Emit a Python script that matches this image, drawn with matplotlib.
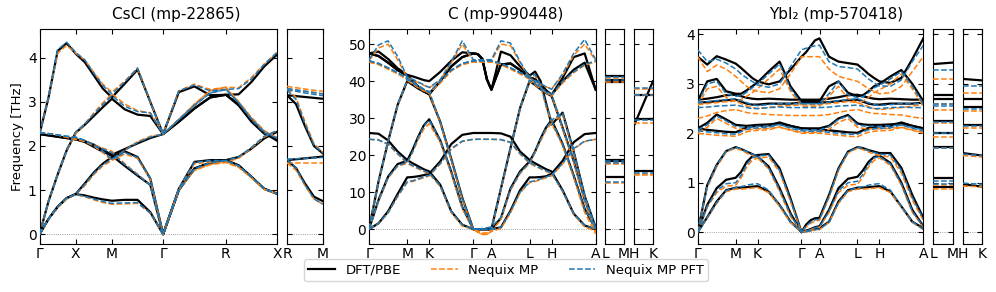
import matplotlib
matplotlib.use("Agg")
import matplotlib.pyplot as plt
from matplotlib.lines import Line2D

# ---------------- CsCl (mp-22865) ----------------
cscl_labels = ["Γ", "X", "M", "Γ", "R", "X"]
cscl_nodes = [0, 0.5, 1.0, 1.707, 2.573, 3.28]
cscl_k = [0, 0.125, 0.25, 0.375, 0.5,
          0.625, 0.75, 0.875, 1.0,
          1.177, 1.354, 1.530, 1.707,
          1.924, 2.140, 2.357, 2.573,
          2.750, 2.927, 3.103, 3.280]
cscl_dft = [
    [0, 0.35, 0.62, 0.82, 0.91, 0.88, 0.83, 0.79, 0.76, 0.78, 0.78, 0.5, 0, 1.0, 1.49, 1.62, 1.68, 1.56, 1.3, 1.03, 0.92],
    [0, 0.35, 0.62, 0.82, 0.91, 1.15, 1.4, 1.6, 1.75, 1.88, 1.75, 1.26, 0, 1.0, 1.49, 1.62, 1.68, 1.56, 1.3, 1.03, 0.92],
    [0, 0.75, 1.35, 1.9, 2.3, 2.48, 2.68, 2.88, 3.07, 2.83, 2.71, 2.68, 2.27, 2.55, 2.85, 3.1, 3.16, 2.92, 2.55, 2.28, 2.15],
    [2.27, 2.24, 2.21, 2.18, 2.15, 2.09, 1.98, 1.87, 1.78, 1.55, 1.33, 1.12, 0, 1.03, 1.64, 1.68, 1.68, 1.75, 1.94, 2.17, 2.32],
    [2.27, 2.24, 2.21, 2.18, 2.15, 2.11, 2.03, 1.91, 1.80, 1.93, 2.06, 2.18, 2.27, 2.55, 2.85, 3.1, 3.16, 2.95, 2.6, 2.3, 2.12],
    [2.27, 3.1, 4.15, 4.33, 4.09, 3.9, 3.6, 3.3, 3.1, 3.41, 3.73, 3.0, 2.27, 3.22, 3.35, 3.15, 3.16, 3.17, 3.45, 3.8, 4.07],
]
cscl_mp = [
    [0, 0.35, 0.6, 0.8, 0.9, 0.85, 0.78, 0.72, 0.68, 0.69, 0.7, 0.48, 0, 1.0, 1.45, 1.58, 1.63, 1.52, 1.28, 1.02, 0.92],
    [0, 0.35, 0.6, 0.8, 0.9, 1.1, 1.35, 1.55, 1.67, 1.82, 1.72, 1.25, 0, 1.0, 1.45, 1.58, 1.63, 1.52, 1.28, 1.02, 0.92],
    [0, 0.75, 1.35, 1.9, 2.28, 2.5, 2.75, 2.98, 3.18, 2.95, 2.8, 2.75, 2.27, 2.6, 2.95, 3.25, 3.33, 3.0, 2.62, 2.33, 2.2],
    [2.3, 2.28, 2.25, 2.2, 2.15, 2.12, 2.03, 1.95, 1.88, 1.6, 1.36, 1.12, 0, 1.03, 1.6, 1.63, 1.63, 1.72, 1.95, 2.2, 2.35],
    [2.3, 2.28, 2.25, 2.2, 2.15, 2.1, 2.0, 1.85, 1.67, 1.9, 2.1, 2.22, 2.27, 2.6, 2.95, 3.25, 3.33, 3.0, 2.65, 2.35, 2.18],
    [2.27, 3.1, 4.1, 4.28, 4.1, 3.95, 3.67, 3.4, 3.22, 3.47, 3.75, 3.0, 2.27, 3.25, 3.4, 3.28, 3.33, 3.32, 3.55, 3.85, 4.12],
]
cscl_pft = [
    [0, 0.35, 0.62, 0.82, 0.9, 0.86, 0.8, 0.74, 0.7, 0.71, 0.72, 0.48, 0, 1.0, 1.48, 1.62, 1.67, 1.55, 1.3, 1.03, 0.92],
    [0, 0.35, 0.62, 0.82, 0.9, 1.13, 1.38, 1.58, 1.7, 1.85, 1.74, 1.26, 0, 1.0, 1.48, 1.62, 1.67, 1.55, 1.3, 1.03, 0.92],
    [0, 0.75, 1.35, 1.92, 2.32, 2.5, 2.72, 2.94, 3.14, 2.9, 2.78, 2.75, 2.27, 2.6, 2.92, 3.2, 3.28, 2.98, 2.6, 2.3, 2.18],
    [2.3, 2.28, 2.25, 2.22, 2.2, 2.13, 2.02, 1.93, 1.85, 1.58, 1.35, 1.12, 0, 1.03, 1.63, 1.67, 1.67, 1.75, 1.97, 2.22, 2.35],
    [2.3, 2.28, 2.25, 2.22, 2.2, 2.12, 2.02, 1.88, 1.7, 1.9, 2.08, 2.2, 2.27, 2.6, 2.92, 3.2, 3.28, 2.98, 2.62, 2.33, 2.17],
    [2.27, 3.1, 4.18, 4.35, 4.12, 3.95, 3.65, 3.37, 3.18, 3.45, 3.77, 3.0, 2.27, 3.25, 3.38, 3.25, 3.28, 3.3, 3.52, 3.85, 4.12],
]
cscl_side_labels = ["R", "M"]
cscl_side_k = [0, 0.125, 0.25, 0.375, 0.5]
cscl_side_dft = [
    [3.15, 3.13, 3.11, 3.09, 3.07],
    [3.15, 2.95, 2.45, 2.0, 1.83],
    [1.68, 1.70, 1.72, 1.74, 1.76],
    [1.68, 1.5, 1.15, 0.85, 0.75],
]
cscl_side_mp = [
    [3.35, 3.32, 3.29, 3.26, 3.24],
    [3.3, 3.27, 3.24, 3.21, 3.18],
    [3.3, 3.1, 2.55, 2.05, 1.85],
    [1.62, 1.62, 1.62, 1.62, 1.62],
    [1.62, 1.45, 1.1, 0.8, 0.68],
]
cscl_side_pft = [
    [3.3, 3.27, 3.24, 3.21, 3.18],
    [3.27, 3.24, 3.2, 3.17, 3.14],
    [3.27, 3.05, 2.5, 2.02, 1.84],
    [1.7, 1.71, 1.72, 1.73, 1.74],
    [1.7, 1.5, 1.12, 0.8, 0.68],
]

# ---------------- hexagonal path (C and YbI2) ----------------
hex_labels = ["Γ", "M", "K", "Γ", "A", "L", "H", "A"]
hex_nodes = [0, 1.0, 1.577, 2.732, 3.206, 4.206, 4.783, 5.938]
hex_k = [0, 0.25, 0.5, 0.75, 1.0,
         1.144, 1.289, 1.433, 1.577,
         1.866, 2.155, 2.443, 2.732,
         2.851, 2.969, 3.088, 3.206,
         3.456, 3.706, 3.956, 4.206,
         4.350, 4.495, 4.639, 4.783,
         5.072, 5.361, 5.649, 5.938]
hex_side1_labels = ["L", "M"]
hex_side2_labels = ["H", "K"]
hex_side_k = [0, 0.474]

# ---------------- C (mp-990448) ----------------
c_dft = [
    [0, 1.6, 4.8, 9.5, 14, 14.1, 14.3, 14.6, 15, 18.3, 23, 25.5, 26,
     26, 26, 26, 26, 25.9, 25, 21, 18.7, 17.8, 17, 16.2, 15.6, 10.5, 4.2, 1.0, 0],
    [26, 25.8, 24, 21, 18.7, 17.8, 17, 16.2, 15.6, 12, 4.8, 1.2, 0,
     0, 0, 0, 0, 0.5, 5, 10.5, 14, 14, 14.1, 14.3, 15, 18.5, 23.5, 25.7, 26],
    [0, 7.9, 14.2, 17.6, 18.5, 21.5, 25, 28, 29.7, 24, 15.5, 6, 0,
     0, 0, 0, 0, 3, 11, 15.6, 18.3, 21, 24.5, 27.5, 29.5, 23, 14.5, 5.5, 0],
    [0, 12.9, 23.7, 33.6, 40, 39, 38, 37.2, 36.5, 29, 19, 8.5, 0,
     0, 0, 0, 0, 11, 21.9, 32.7, 40, 39, 37.8, 36.8, 36, 27.4, 18.5, 8, 0],
    [47.5, 48, 46, 43.5, 41.7, 41.3, 40.8, 40.3, 40, 42.5, 45.5, 47.8, 47.5,
     47.3, 46, 40.5, 37.7, 48, 47, 44, 41.5, 42.6, 40, 34, 28.3, 31.5, 21, 9, 0.4],
    [47.5, 46.8, 45, 43, 41.5, 40, 38.5, 37.3, 36.5, 40, 44, 46.5, 47.5,
     47.3, 46, 40.5, 37.7, 44.5, 44.8, 43, 41, 40.5, 39.1, 37.5, 36.3, 40.9, 46.5, 47.5, 37.7],
    [47.5, 46.8, 45, 43, 41.5, 40, 38.5, 37.3, 36.5, 40, 44, 46.5, 47.5,
     47.3, 46, 40.5, 37.7, 44.5, 44.8, 43, 41, 40.5, 39.1, 37.5, 36.3, 40, 43.1, 45, 37.7],
]
c_mp = [
    [45.5, 49.0, 50.0, 45.8, 41.0, 40.3, 39.6, 38.9, 38.2, 40.2, 45.0, 50.0, 45.5,
     45.5, 45.5, 45.5, 45.5, 50.0, 49.6, 45.0, 40.8, 40.0, 39.2, 38.4, 38.0, 41.5, 47.0, 50.0, 45.5],
    [45.2, 44.5, 43.3, 42.0, 40.5, 39.5, 38.5, 37.5, 36.8, 39.5, 42.8, 44.5, 45.2,
     45.2, 45.2, 45.2, 45.2, 44.5, 43.3, 42.0, 40.5, 39.5, 38.3, 36.8, 36.0, 39.5, 42.3, 44.3, 45.2],
    [45.2, 44.5, 43.3, 42.0, 40.5, 39.5, 38.5, 37.5, 36.8, 39.5, 42.8, 44.5, 45.2,
     45.2, 45.2, 45.2, 45.2, 44.5, 43.3, 42.0, 41.2, 41.5, 38.8, 33.0, 29.0, 31.0, 20.5, 8.5, -1.2],
    [0, 1.5, 4.4, 8.8, 12.6, 12.9, 13.4, 13.9, 14.4, 17.6, 21.6, 23.7, 24.3,
     24.3, 24.3, 24.3, 24.3, 24.2, 23.4, 20.3, 17.8, 17.0, 16.3, 15.6, 15.0, 10.2, 4.0, 0.6, -0.5],
    [24.3, 24.1, 22.9, 20.3, 17.8, 17.0, 16.3, 15.6, 15.0, 11.5, 4.5, 0.8, 0,
     -0.8, -1.4, -1.4, -0.6, 0.2, 4.4, 9.8, 12.6, 12.9, 13.4, 13.9, 14.4, 17.6, 21.6, 23.7, 24.3],
    [0, 7.6, 13.8, 17.0, 17.8, 20.8, 24.2, 27.0, 28.5, 23.5, 15.0, 5.5, 0,
     -0.8, -1.4, -1.4, -0.6, 2.6, 10.5, 15.0, 17.8, 20.7, 23.8, 26.8, 28.6, 22.5, 14.0, 4.5, -1.2],
    [0, 12.8, 23.6, 33.5, 40.2, 39.2, 38.2, 37.4, 36.8, 28.8, 18.8, 8.2, 0,
     -0.5, -1.0, -1.0, -0.4, 10.8, 21.7, 32.5, 40.0, 39.0, 37.9, 36.9, 36.2, 27.0, 18.0, 7.5, -1.0],
]
c_pft = [
    [45.8, 49.8, 50.9, 46.7, 41.2, 40.5, 39.8, 39.0, 38.3, 40.4, 45.3, 50.9, 45.8,
     45.8, 45.8, 45.8, 45.8, 50.9, 50.3, 45.3, 41.0, 40.2, 39.3, 38.5, 37.8, 42.0, 47.5, 51.3, 45.8],
    [45.5, 44.8, 43.6, 42.3, 40.8, 39.8, 38.8, 37.8, 37.0, 40.0, 43.0, 44.8, 45.5,
     45.5, 45.5, 45.5, 45.5, 44.8, 43.6, 42.3, 40.8, 39.8, 38.5, 37.0, 36.3, 40.0, 42.5, 44.5, 45.5],
    [45.5, 44.8, 43.6, 42.3, 40.8, 39.8, 38.8, 37.8, 37.0, 40.0, 43.0, 44.8, 45.5,
     45.5, 45.5, 45.5, 45.5, 44.8, 43.6, 42.3, 41.5, 41.8, 39.0, 33.5, 29.5, 31.5, 21.0, 9.0, 0.4],
    [0, 1.5, 4.5, 9.0, 12.8, 13.1, 13.6, 14.1, 14.6, 17.8, 21.8, 23.8, 24.3,
     24.3, 24.3, 24.3, 24.3, 24.2, 23.5, 20.5, 18.0, 17.2, 16.5, 15.8, 15.2, 10.3, 4.2, 1.0, 0],
    [24.3, 24.1, 23.0, 20.5, 18.0, 17.2, 16.5, 15.8, 15.2, 11.8, 4.8, 1.2, 0,
     0, 0, 0, 0, 0.5, 4.8, 10.0, 12.8, 13.1, 13.6, 14.1, 14.6, 17.8, 21.8, 23.8, 24.3],
    [0, 7.8, 14.0, 17.2, 18.0, 21.0, 24.8, 27.8, 29.5, 24.0, 15.5, 6.0, 0,
     0, 0.2, 0.4, 0.6, 3.2, 10.8, 15.3, 18.0, 21.0, 24.3, 27.3, 29.3, 23.0, 14.5, 5.5, 0],
    [0, 12.9, 23.7, 33.6, 40.5, 39.5, 38.5, 37.8, 37.2, 29.0, 19.0, 8.5, 0,
     0, 0, 0, 0, 11.0, 21.9, 32.7, 40.3, 39.3, 38.2, 37.2, 36.5, 27.4, 18.5, 8.0, 0],
]
c_side1_dft = [[41.5, 41.5], [40.4, 40.4], [39.9, 39.9], [18.7, 18.7], [18.3, 18.3], [14.0, 14.0]]
c_side1_mp = [[40.8, 40.8], [39.8, 39.8], [18.0, 18.0], [17.6, 17.6], [12.6, 12.6]]
c_side1_pft = [[41.2, 41.2], [40.3, 40.3], [18.3, 18.3], [17.8, 17.8], [12.8, 12.8]]
c_side2_dft = [[28.0, 40.0], [29.7, 29.7], [36.3, 36.3], [15.8, 15.8]]
c_side2_mp = [[38.0, 38.0], [36.2, 36.2], [28.6, 28.6], [15.0, 15.0], [14.6, 14.6]]
c_side2_pft = [[38.2, 38.2], [36.3, 36.3], [29.5, 29.5], [15.2, 15.2]]

# ---------------- YbI2 (mp-570418) ----------------
ybi2_dft = [
    [0, 0.3, 0.62, 0.85, 0.9, 0.9, 0.91, 0.92, 0.93, 0.82, 0.55, 0.21, 0,
     0.02, 0.04, 0.06, 0.08, 0.21, 0.62, 0.85, 0.9, 0.9, 0.91, 0.92, 0.93, 0.82, 0.52, 0.21, 0.08],
    [0, 0.55, 0.89, 1.06, 1.1, 1.22, 1.42, 1.53, 1.56, 1.58, 1.29, 0.68, 0,
     0.03, 0.06, 0.1, 0.12, 0.45, 0.89, 1.08, 1.12, 1.25, 1.42, 1.52, 1.55, 1.4, 1.0, 0.45, 0.12],
    [0, 0.95, 1.36, 1.64, 1.72, 1.68, 1.63, 1.58, 1.53, 1.33, 0.89, 0.38, 0,
     0.15, 0.24, 0.28, 0.29, 0.75, 1.29, 1.63, 1.72, 1.7, 1.66, 1.63, 1.6, 1.6, 1.3, 0.75, 0.29],
    [2.1, 2.07, 2.05, 2.03, 2.02, 2.07, 2.12, 2.14, 2.15, 2.16, 2.22, 2.15, 2.1,
     2.09, 2.08, 2.08, 2.08, 2.06, 2.04, 2.02, 2.01, 2.06, 2.11, 2.13, 2.14, 2.15, 2.22, 2.15, 2.1],
    [2.1, 2.21, 2.38, 2.28, 2.17, 2.16, 2.15, 2.16, 2.17, 2.18, 2.2, 2.15, 2.1,
     2.1, 2.1, 2.1, 2.1, 2.15, 2.3, 2.37, 2.2, 2.18, 2.17, 2.17, 2.17, 2.18, 2.2, 2.15, 2.1],
    [2.62, 2.63, 2.65, 2.67, 2.68, 2.64, 2.6, 2.58, 2.58, 2.6, 2.6, 2.6, 2.62,
     2.62, 2.62, 2.62, 2.62, 2.63, 2.65, 2.67, 2.68, 2.64, 2.6, 2.58, 2.58, 2.6, 2.6, 2.6, 2.62],
    [2.68, 2.7, 2.73, 2.77, 2.78, 2.75, 2.72, 2.7, 2.69, 2.7, 2.69, 2.68, 2.68,
     2.68, 2.68, 2.68, 2.68, 2.7, 2.73, 2.77, 2.78, 2.75, 2.72, 2.7, 2.69, 2.7, 2.69, 2.68, 2.68],
    [2.65, 3.05, 3.1, 2.85, 2.8, 2.8, 2.87, 2.95, 3.03, 3.25, 3.45, 2.95, 2.65,
     2.65, 2.65, 2.65, 2.65, 2.95, 3.05, 2.82, 2.75, 2.77, 2.85, 2.95, 3.0, 3.15, 3.28, 3.0, 2.65],
    [3.55, 3.39, 3.56, 3.49, 3.41, 3.32, 3.22, 3.12, 3.05, 2.99, 3.05, 3.29, 3.55,
     3.64, 3.76, 3.88, 3.92, 3.55, 3.45, 3.42, 3.39, 3.3, 3.2, 3.12, 3.05, 3.02, 3.12, 3.5, 3.92],
]
ybi2_mp = [
    [0, 0.28, 0.58, 0.82, 0.87, 0.87, 0.88, 0.89, 0.9, 0.8, 0.52, 0.2, 0,
     0.01, 0.03, 0.04, 0.05, 0.2, 0.58, 0.82, 0.87, 0.87, 0.88, 0.89, 0.9, 0.8, 0.5, 0.2, 0.05],
    [0, 0.5, 0.8, 0.93, 0.95, 1.1, 1.32, 1.45, 1.5, 1.52, 1.22, 0.62, 0,
     0.02, 0.05, 0.08, 0.1, 0.4, 0.8, 0.95, 0.97, 1.12, 1.32, 1.45, 1.5, 1.35, 0.95, 0.4, 0.1],
    [0, 0.9, 1.32, 1.62, 1.7, 1.66, 1.6, 1.55, 1.5, 1.28, 0.82, 0.32, 0,
     0.1, 0.18, 0.22, 0.24, 0.7, 1.25, 1.6, 1.7, 1.67, 1.62, 1.58, 1.55, 1.52, 1.2, 0.65, 0.24],
    [2.0, 1.98, 1.96, 1.95, 1.94, 1.98, 2.03, 2.05, 2.06, 2.07, 2.13, 2.06, 2.0,
     2.0, 2.0, 2.0, 2.0, 1.98, 1.96, 1.94, 1.93, 1.98, 2.02, 2.04, 2.05, 2.06, 2.12, 2.06, 2.0],
    [2.02, 2.12, 2.3, 2.2, 2.1, 2.08, 2.07, 2.08, 2.09, 2.1, 2.12, 2.07, 2.02,
     2.02, 2.02, 2.02, 2.02, 2.08, 2.22, 2.3, 2.12, 2.1, 2.09, 2.09, 2.09, 2.1, 2.12, 2.07, 2.02],
    [2.3, 2.35, 2.42, 2.46, 2.48, 2.45, 2.42, 2.4, 2.4, 2.38, 2.37, 2.36, 2.36,
     2.36, 2.36, 2.36, 2.36, 2.38, 2.42, 2.46, 2.48, 2.45, 2.42, 2.4, 2.4, 2.38, 2.37, 2.33, 2.3],
    [2.58, 2.6, 2.62, 2.64, 2.65, 2.6, 2.55, 2.52, 2.5, 2.52, 2.55, 2.56, 2.58,
     2.58, 2.58, 2.58, 2.58, 2.6, 2.62, 2.64, 2.62, 2.58, 2.54, 2.5, 2.48, 2.5, 2.52, 2.55, 2.58],
    [2.55, 2.9, 2.95, 2.72, 2.65, 2.68, 2.75, 2.82, 2.9, 3.1, 3.3, 2.85, 2.55,
     2.55, 2.55, 2.55, 2.55, 2.75, 2.95, 2.7, 2.62, 2.65, 2.72, 2.82, 2.88, 3.0, 3.2, 2.9, 2.55],
    [3.55, 3.25, 3.38, 3.3, 3.15, 3.05, 2.95, 2.88, 2.85, 2.82, 2.9, 3.2, 3.55,
     3.55, 3.55, 3.55, 3.55, 3.3, 3.15, 3.1, 3.05, 2.98, 2.9, 2.85, 2.8, 2.82, 2.95, 3.25, 3.55],
]
ybi2_pft = [
    [0, 0.29, 0.6, 0.84, 0.9, 0.92, 0.95, 0.97, 0.98, 0.85, 0.55, 0.21, 0,
     0.01, 0.03, 0.05, 0.06, 0.2, 0.6, 0.84, 0.9, 0.92, 0.95, 0.97, 0.98, 0.85, 0.52, 0.21, 0.06],
    [0, 0.52, 0.84, 0.98, 1.0, 1.15, 1.37, 1.5, 1.54, 1.56, 1.25, 0.65, 0,
     0.02, 0.05, 0.09, 0.11, 0.42, 0.84, 1.0, 1.03, 1.17, 1.37, 1.5, 1.53, 1.38, 0.97, 0.42, 0.11],
    [0, 0.93, 1.35, 1.64, 1.72, 1.68, 1.63, 1.58, 1.54, 1.3, 0.86, 0.35, 0,
     0.12, 0.2, 0.25, 0.26, 0.72, 1.27, 1.62, 1.72, 1.69, 1.65, 1.61, 1.58, 1.56, 1.25, 0.7, 0.26],
    [2.05, 2.03, 2.01, 1.99, 1.98, 2.03, 2.08, 2.1, 2.11, 2.12, 2.18, 2.1, 2.05,
     2.04, 2.04, 2.04, 2.04, 2.02, 2.0, 1.98, 1.98, 2.03, 2.07, 2.09, 2.1, 2.11, 2.17, 2.1, 2.05],
    [2.07, 2.17, 2.35, 2.25, 2.14, 2.13, 2.12, 2.13, 2.14, 2.15, 2.17, 2.12, 2.07,
     2.07, 2.07, 2.07, 2.07, 2.13, 2.28, 2.35, 2.17, 2.15, 2.14, 2.14, 2.14, 2.15, 2.17, 2.12, 2.07],
    [2.52, 2.53, 2.55, 2.56, 2.57, 2.55, 2.52, 2.5, 2.5, 2.52, 2.53, 2.52, 2.52,
     2.52, 2.52, 2.52, 2.52, 2.53, 2.55, 2.56, 2.57, 2.55, 2.52, 2.5, 2.5, 2.52, 2.53, 2.52, 2.52],
    [2.62, 2.64, 2.66, 2.68, 2.7, 2.66, 2.62, 2.58, 2.56, 2.58, 2.6, 2.6, 2.6,
     2.6, 2.6, 2.6, 2.6, 2.63, 2.66, 2.68, 2.7, 2.66, 2.62, 2.58, 2.56, 2.58, 2.6, 2.6, 2.6],
    [2.6, 3.0, 3.05, 2.8, 2.75, 2.76, 2.83, 2.92, 3.0, 3.2, 3.4, 2.9, 2.6,
     2.6, 2.6, 2.6, 2.6, 2.8, 3.05, 2.78, 2.72, 2.74, 2.82, 2.92, 2.97, 3.1, 3.25, 2.95, 2.6],
    [3.69, 3.45, 3.5, 3.42, 3.3, 3.2, 3.12, 3.05, 2.98, 2.93, 3.0, 3.35, 3.69,
     3.72, 3.75, 3.77, 3.78, 3.45, 3.35, 3.33, 3.3, 3.2, 3.1, 3.02, 2.96, 2.95, 3.08, 3.45, 3.78],
]
ybi2_side1_dft = [[3.40, 3.43], [2.78, 2.78], [2.70, 2.70], [2.25, 2.25], [2.01, 2.01],
                  [1.72, 1.72], [1.10, 1.10], [0.91, 0.91]]
ybi2_side1_mp = [[3.10, 3.10], [2.60, 2.60], [2.47, 2.47], [2.20, 2.20], [1.93, 1.93],
                 [1.70, 1.70], [0.95, 0.95], [0.88, 0.88]]
ybi2_side1_pft = [[3.28, 3.28], [2.60, 2.60], [2.55, 2.55], [2.23, 2.23], [2.00, 2.00],
                  [1.71, 1.71], [1.04, 1.04], [0.98, 0.98]]
ybi2_side2_dft = [[3.10, 3.07], [2.69, 2.69], [2.54, 2.54], [2.17, 2.17], [1.60, 1.55], [0.97, 0.92]]
ybi2_side2_mp = [[2.81, 2.81], [2.45, 2.45], [2.11, 2.11], [1.55, 1.52], [0.93, 0.92]]
ybi2_side2_pft = [[2.95, 2.95], [2.50, 2.50], [2.14, 2.14], [1.58, 1.55], [0.99, 0.97]]


fig = plt.figure(figsize=(9.96, 2.92), dpi=100)


def add_ax(left, width):
    # left / width in pixels, shared vertical extent
    return fig.add_axes([left / 996, 48 / 292, width / 996, 215 / 292])


def draw(ax, k, dft, mp, pft):
    ax.axhline(0, color="gray", lw=0.6, ls=":", zorder=1)
    for y in dft:
        ax.plot(k, y, color="black", lw=1.6, zorder=2)
    for y in mp:
        ax.plot(k, y, color="#ff7f0e", lw=1.1, ls="--", zorder=3)
    for y in pft:
        ax.plot(k, y, color="#1f77b4", lw=1.1, ls="--", zorder=4)


def style(ax, nodes, labels, ylim, yticks, ylabels=True):
    ax.set_xlim(nodes[0], nodes[-1])
    ax.set_ylim(ylim)
    ax.set_xticks(nodes)
    ax.set_xticklabels(labels, fontsize=10)
    ax.set_yticks(yticks)
    ax.tick_params(direction="in", top=True, right=True, labelsize=10, pad=2)
    if not ylabels:
        ax.set_yticklabels([])


# CsCl
ax = add_ax(39.5, 237.5)
draw(ax, cscl_k, cscl_dft, cscl_mp, cscl_pft)
style(ax, cscl_nodes, cscl_labels, (-0.22, 4.65), [0, 1, 2, 3, 4])
ax.set_ylabel("Frequency [THz]", fontsize=9.5, labelpad=3)
ax = add_ax(287, 36)
draw(ax, cscl_side_k, cscl_side_dft, cscl_side_mp, cscl_side_pft)
style(ax, [0, 0.5], cscl_side_labels, (-0.22, 4.65), [0, 1, 2, 3, 4], False)

# C
c_ylim = (-4.0, 54.1)
c_yt = [0, 10, 20, 30, 40, 50]
ax = add_ax(369, 226.7)
draw(ax, hex_k, c_dft, c_mp, c_pft)
style(ax, hex_nodes, hex_labels, c_ylim, c_yt)
ax = add_ax(605, 19)
draw(ax, hex_side_k, c_side1_dft, c_side1_mp, c_side1_pft)
style(ax, hex_side_k, hex_side1_labels, c_ylim, c_yt, False)
ax = add_ax(634, 19)
draw(ax, hex_side_k, c_side2_dft, c_side2_mp, c_side2_pft)
style(ax, hex_side_k, hex_side2_labels, c_ylim, c_yt, False)

# YbI2
y_ylim = (-0.24, 4.11)
y_yt = [0, 1, 2, 3, 4]
ax = add_ax(697.7, 225.6)
draw(ax, hex_k, ybi2_dft, ybi2_mp, ybi2_pft)
style(ax, hex_nodes, hex_labels, y_ylim, y_yt)
ax = add_ax(933, 19.5)
draw(ax, hex_side_k, ybi2_side1_dft, ybi2_side1_mp, ybi2_side1_pft)
style(ax, hex_side_k, hex_side1_labels, y_ylim, y_yt, False)
ax = add_ax(962.7, 19.3)
draw(ax, hex_side_k, ybi2_side2_dft, ybi2_side2_mp, ybi2_side2_pft)
style(ax, hex_side_k, hex_side2_labels, y_ylim, y_yt, False)

fig.text(176 / 996, 0.952, "CsCl (mp-22865)", ha="center", va="center", fontsize=11)
fig.text(506 / 996, 0.952, "C (mp-990448)", ha="center", va="center", fontsize=11)
fig.text(836 / 996, 0.952, "YbI₂ (mp-570418)", ha="center", va="center", fontsize=11)

handles = [Line2D([], [], color="black", lw=1.6),
           Line2D([], [], color="#ff7f0e", lw=1.1, ls="--"),
           Line2D([], [], color="#1f77b4", lw=1.1, ls="--")]
fig.legend(handles, ["DFT/PBE", "Nequix MP", "Nequix MP PFT"], loc="center",
           bbox_to_anchor=(506 / 996, 0.075), ncol=3, fontsize=9.5,
           columnspacing=2.3, handlelength=2.0, borderpad=0.35)

fig.savefig("out.png", dpi=100)
